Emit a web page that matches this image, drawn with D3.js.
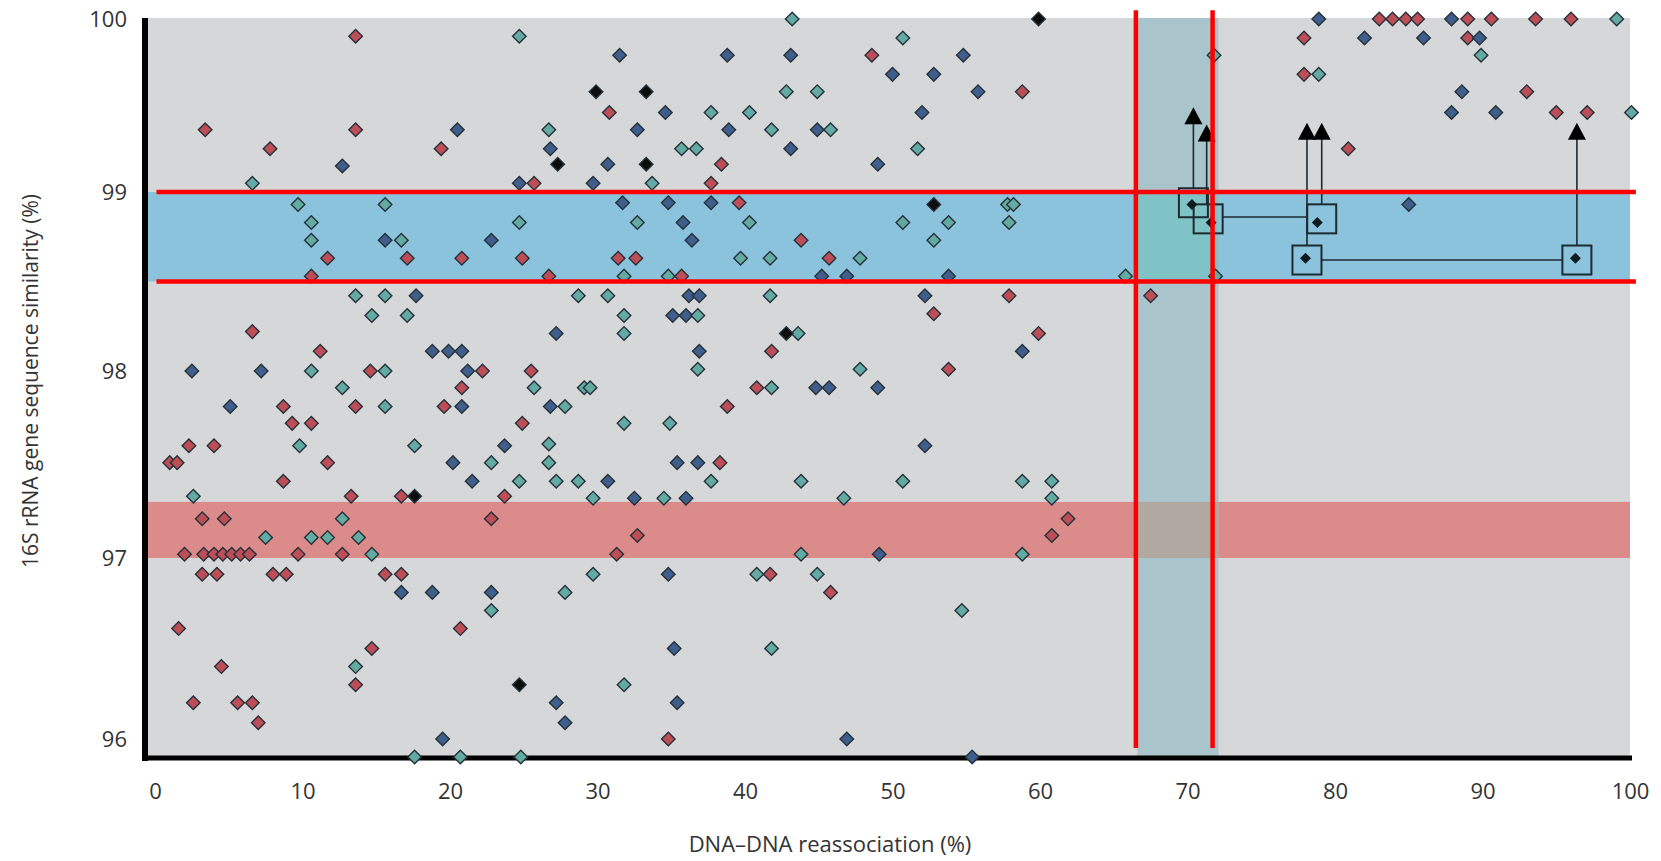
<!DOCTYPE html>
<html>
<head>
<meta charset="utf-8">
<script src="https://cdn.jsdelivr.net/npm/d3@7"></script>
<style>
  body { margin: 0; background: #fff; }
  svg text { font-family: "Open Sans", "DejaVu Sans", sans-serif; fill: #333; }
</style>
</head>
<body>
<svg id="chart" width="1661" height="861"></svg>
<script>
// tick values
var xTicks = [0, 10, 20, 30, 40, 50, 60, 70, 80, 90, 100];
var yTicks = [96, 97, 98, 99, 100];

// shaded bands (data units)
var blueBand = [98.5, 99.0];
var pinkBand = [97.0, 97.3];
var colBand = [66.6, 72.1];
var redHLines = [99.0, 98.5];
var redVLines = [66.5, 71.7];

// [DNA-DNA %, 16S %]
var redPts = [
  [13.6,99.9],[3.4,99.36],[13.6,99.36],[7.8,99.25],[19.4,99.25],[25.7,99.05],[11.7,98.63],[17.1,98.63],
  [20.8,98.63],[24.9,98.63],[10.6,98.53],[6.6,98.22],[11.2,98.11],[14.6,98.0],[22.2,98.0],[25.5,98.0],
  [20.8,97.91],[48.6,99.79],[30.8,99.46],[38.4,99.16],[37.7,99.05],[39.6,98.94],[43.8,98.73],[31.4,98.63],
  [32.6,98.63],[45.7,98.63],[26.7,98.53],[35.7,98.53],[41.8,98.11],[40.8,97.91],[58.8,99.58],[57.9,98.42],
  [67.5,98.42],[52.8,98.32],[59.9,98.21],[53.8,98.01],[83.0,100],[83.9,100],[84.8,100],[85.6,100],
  [89.0,100],[90.6,100],[93.6,100],[96.0,100],[77.9,99.89],[89.0,99.89],[77.9,99.68],[93.0,99.58],
  [95.0,99.46],[97.1,99.46],[80.9,99.25],[8.7,97.81],[13.6,97.81],[19.6,97.81],[9.3,97.72],[10.6,97.72],
  [24.9,97.72],[2.3,97.6],[4.0,97.6],[1.0,97.51],[1.5,97.51],[11.7,97.51],[8.7,97.41],[13.3,97.33],
  [16.7,97.33],[23.7,97.33],[3.2,97.21],[4.7,97.21],[22.8,97.21],[2.0,97.02],[3.3,97.02],[4.0,97.02],
  [4.6,97.02],[5.2,97.02],[5.8,97.02],[6.4,97.02],[9.7,97.02],[12.7,97.02],[3.2,96.91],[4.2,96.91],
  [8.0,96.91],[8.9,96.91],[15.6,96.91],[16.7,96.91],[1.6,96.61],[20.7,96.61],[14.7,96.5],[4.5,96.4],
  [13.6,96.3],[2.6,96.2],[5.6,96.2],[6.6,96.2],[7.0,96.09],[38.8,97.81],[38.3,97.51],[32.7,97.12],
  [31.3,97.02],[41.7,96.91],[45.8,96.81],[34.8,96.0],[61.9,97.21],[60.8,97.12]
];
var bluePts = [
  [20.5,99.36],[12.7,99.15],[24.7,99.05],[15.6,98.73],[22.8,98.73],[17.7,98.42],[18.8,98.11],[19.9,98.11],
  [20.8,98.11],[2.5,98.0],[7.2,98.0],[21.2,98.0],[31.5,99.79],[38.8,99.79],[43.1,99.79],[50.0,99.68],
  [34.6,99.46],[32.7,99.36],[38.9,99.36],[44.9,99.36],[26.8,99.25],[43.1,99.25],[30.7,99.16],[49.0,99.16],
  [29.7,99.05],[31.7,98.94],[34.8,98.94],[37.7,98.94],[35.8,98.83],[36.4,98.73],[45.2,98.53],[46.9,98.53],
  [36.2,98.42],[36.9,98.42],[35.1,98.31],[36.0,98.31],[27.2,98.21],[36.9,98.11],[44.8,97.91],[45.7,97.91],
  [49.0,97.91],[54.8,99.79],[52.8,99.68],[55.8,99.58],[52.0,99.46],[53.8,98.53],[52.2,98.42],[58.8,98.11],
  [78.9,100],[87.9,100],[82.0,99.89],[86.0,99.89],[89.8,99.89],[88.6,99.58],[87.9,99.46],[90.9,99.46],
  [85.0,98.93],[5.1,97.81],[20.8,97.81],[23.7,97.6],[20.2,97.51],[21.5,97.41],[16.7,96.81],[18.8,96.81],
  [22.8,96.81],[19.5,96.0],[26.8,97.81],[35.4,97.51],[36.8,97.51],[30.7,97.41],[32.5,97.32],[36.0,97.32],
  [49.1,97.02],[34.8,96.91],[35.2,96.5],[27.2,96.2],[35.4,96.2],[27.8,96.09],[46.9,96.0],[52.2,97.6],
  [55.4,95.9]
];
var tealPts = [
  [24.7,99.9],[6.6,99.05],[9.7,98.93],[15.6,98.93],[10.6,98.83],[24.7,98.83],[10.6,98.73],[16.7,98.73],
  [13.6,98.42],[15.6,98.42],[14.7,98.31],[17.1,98.31],[10.6,98.0],[15.6,98.0],[12.7,97.91],[43.2,100],
  [42.8,99.58],[44.9,99.58],[37.7,99.46],[40.3,99.46],[26.7,99.36],[41.8,99.36],[45.8,99.36],[35.7,99.25],
  [36.7,99.25],[33.7,99.05],[32.7,98.83],[40.3,98.83],[39.7,98.63],[41.7,98.63],[47.8,98.63],[31.8,98.53],
  [34.8,98.53],[28.7,98.42],[30.7,98.42],[41.7,98.42],[31.8,98.31],[36.8,98.31],[31.8,98.21],[43.6,98.21],
  [36.8,98.01],[47.8,98.01],[25.7,97.91],[29.1,97.91],[29.5,97.91],[41.8,97.91],[50.7,99.89],[51.7,99.25],
  [71.8,99.79],[57.8,98.93],[58.2,98.93],[50.7,98.83],[53.8,98.83],[57.9,98.83],[52.8,98.73],[65.8,98.53],
  [71.9,98.53],[99.1,100],[89.9,99.79],[78.9,99.68],[100.1,99.46],[15.6,97.81],[9.8,97.6],[17.6,97.6],
  [22.8,97.51],[24.7,97.41],[2.6,97.33],[12.7,97.21],[7.5,97.11],[10.6,97.11],[11.7,97.11],[13.8,97.11],
  [14.7,97.02],[22.8,96.71],[13.6,96.4],[17.6,95.9],[20.7,95.9],[24.8,95.9],[27.8,97.81],[31.8,97.72],
  [34.9,97.72],[26.7,97.61],[26.7,97.51],[27.2,97.41],[28.7,97.41],[37.7,97.41],[43.8,97.41],[29.7,97.32],
  [34.5,97.32],[46.7,97.32],[43.8,97.02],[29.7,96.91],[40.8,96.91],[44.9,96.91],[27.8,96.81],[41.8,96.5],
  [31.8,96.3],[50.7,97.41],[58.8,97.41],[60.8,97.41],[60.8,97.32],[58.8,97.02],[54.7,96.71]
];
var blackPts = [
  [29.9,99.58],[33.3,99.58],[27.3,99.16],[33.3,99.16],[42.8,98.21],[59.9,100],[52.8,98.93],[17.6,97.33],[24.7,96.3]
];

// boxed pairs with arrows
var boxPts = [[70.3,98.93],[71.6,98.83],[78.8,98.83],[78.0,98.63],[96.3,98.63]];
var boxes = [[70.4,98.94],[71.4,98.85],[79.1,98.85],[78.1,98.62],[96.4,98.62]];
var links = [[71.4,79.1,98.86],[78.1,96.4,98.62]];
var arrows = [[70.4,99.02,99.49],[71.3,98.93,99.39],[78.1,98.70,99.40],[79.1,98.93,99.40],[96.4,98.70,99.40]];

var svg = d3.select('#chart');
var x = d3.scaleLinear().domain([0, 100]).range([155, 1630]);
var y = d3.scaleLinear().domain([95.9, 96, 97, 98, 99, 100]).range([757, 739, 558, 371, 192, 19]);

var plotL = 145, plotR = 1630, plotT = 18, plotB = 758;

function hBand(b, fill, x0, x1) {
  svg.append('rect').attr('x', x0).attr('y', y(b[1]))
    .attr('width', x1 - x0).attr('height', y(b[0]) - y(b[1])).attr('fill', fill);
}

// background and bands
svg.append('rect').attr('x', plotL).attr('y', plotT)
  .attr('width', plotR - plotL).attr('height', plotB - plotT).attr('fill', '#d6d7d9');
hBand(pinkBand, '#dc8b8b', plotL, plotR);
hBand(blueBand, '#8cc3dc', plotL, plotR);
svg.append('rect').attr('x', x(colBand[0])).attr('y', plotT)
  .attr('width', x(colBand[1]) - x(colBand[0])).attr('height', plotB - plotT)
  .attr('fill', '#a9c4ca');
hBand(blueBand, '#80c3c6', x(colBand[0]), x(colBand[1]));
hBand(pinkBand, '#b2a8a2', x(colBand[0]), x(colBand[1]));

// axes
var yAxis = svg.append('g').attr('transform', `translate(${plotL},0)`)
  .call(d3.axisLeft(y).tickValues(yTicks).tickSize(0).tickPadding(18).tickFormat(d3.format('d')));
var xAxis = svg.append('g').attr('transform', `translate(0,${plotB})`)
  .call(d3.axisBottom(x).tickValues(xTicks).tickSize(0).tickPadding(25).tickFormat(d3.format('d')));
[yAxis, xAxis].forEach(function(a) {
  a.select('.domain').remove();
  a.selectAll('text').style('font-size', '22px').attr('fill', '#3a3a3a');
});
svg.append('line').attr('x1', plotL).attr('x2', plotL).attr('y1', plotT).attr('y2', plotB + 3)
  .attr('stroke', '#000').attr('stroke-width', 6);
svg.append('line').attr('x1', plotL - 3).attr('x2', plotR + 2).attr('y1', plotB).attr('y2', plotB)
  .attr('stroke', '#000').attr('stroke-width', 5);

// diamonds
var diamond = d3.symbol().type(d3.symbolSquare).size(92);
function drawPts(data, fill, cls) {
  svg.append('g').attr('class', cls).selectAll('path')
    .data(data).enter().append('path')
    .attr('d', diamond)
    .attr('transform', d => `translate(${x(d[0])},${y(d[1])}) rotate(45)`)
    .attr('fill', fill)
    .attr('stroke', '#26323a')
    .attr('stroke-width', 1.4);
}
drawPts(redPts, '#bd4e57', 'red');
drawPts(bluePts, '#3f5e8c', 'blue');
drawPts(tealPts, '#62aaa2', 'teal');
drawPts(blackPts, '#0c0c0c', 'black');

// boxed points, links and arrows
var ann = svg.append('g').attr('stroke', '#1c2a32');
ann.selectAll('rect').data(boxes).enter().append('rect')
  .attr('x', d => x(d[0]) - 14.5).attr('y', d => y(d[1]) - 14.5)
  .attr('width', 29).attr('height', 29)
  .attr('fill', 'none').attr('stroke-width', 2);
ann.selectAll('line.link').data(links).enter().append('line')
  .attr('class', 'link')
  .attr('x1', d => x(d[0]) + 14.5).attr('x2', d => x(d[1]) - 14.5)
  .attr('y1', d => y(d[2])).attr('y2', d => y(d[2]))
  .attr('stroke-width', 1.6);
ann.selectAll('line.shaft').data(arrows).enter().append('line')
  .attr('class', 'shaft')
  .attr('x1', d => x(d[0])).attr('x2', d => x(d[0]))
  .attr('y1', d => y(d[1])).attr('y2', d => y(d[2]) + 10)
  .attr('stroke-width', 1.6);
ann.selectAll('path.head').data(arrows).enter().append('path')
  .attr('class', 'head')
  .attr('d', d => `M${x(d[0])},${y(d[2])} l9,17 l-18,0 Z`)
  .attr('fill', '#000').attr('stroke', 'none');
svg.append('g').selectAll('path').data(boxPts).enter().append('path')
  .attr('d', d3.symbol().type(d3.symbolSquare).size(60))
  .attr('transform', d => `translate(${x(d[0])},${y(d[1])}) rotate(45)`)
  .attr('fill', '#0e1a20');

// red guide lines
svg.selectAll('line.hred').data(redHLines).enter().append('line')
  .attr('class', 'hred')
  .attr('x1', x(0.1)).attr('x2', x(100.4))
  .attr('y1', d => y(d)).attr('y2', d => y(d))
  .attr('stroke', '#ff0000').attr('stroke-width', 4.5);
svg.selectAll('line.vred').data(redVLines).enter().append('line')
  .attr('class', 'vred')
  .attr('x1', d => x(d)).attr('x2', d => x(d))
  .attr('y1', y(100.05)).attr('y2', y(95.95))
  .attr('stroke', '#ff0000').attr('stroke-width', 4.5);

// titles
svg.append('text').attr('x', 830).attr('y', 852)
  .attr('text-anchor', 'middle').style('font-size', '22px').attr('fill', '#3a3a3a')
  .text('DNA–DNA reassociation (%)');
svg.append('text').attr('transform', 'translate(38,381) rotate(-90)')
  .attr('text-anchor', 'middle').style('font-size', '21px').attr('fill', '#3a3a3a')
  .text('16S rRNA gene sequence similarity (%)');
</script>
</body>
</html>
